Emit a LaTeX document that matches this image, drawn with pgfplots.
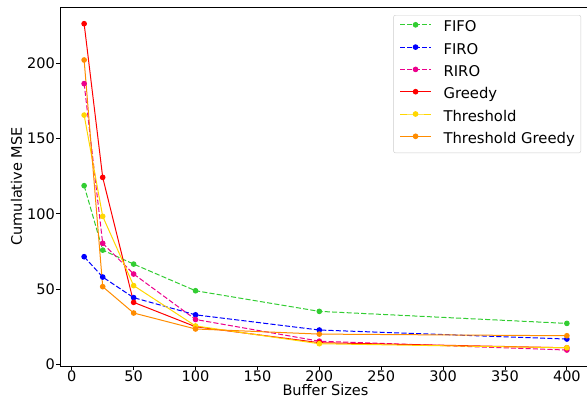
\documentclass[border=0pt]{standalone}
\usepackage{fontspec}
\setmainfont{DejaVu Sans}
\usepackage{pgfplots}
\pgfplotsset{compat=1.18}
\definecolor{cfifo}{HTML}{32CD32}
\definecolor{cgold}{HTML}{FFD700}
\definecolor{corange}{HTML}{FF8C00}
\begin{document}
\begin{tikzpicture}
\begin{axis}[
  at={(0,0)}, anchor=south west,
  scale only axis, width=531pt, height=359pt,
  xmin=-9.5, xmax=419.5, ymin=-1.1, ymax=237.4,
  xtick={0,50,...,400}, ytick={0,50,...,200},
  tick pos=left, tick align=outside, major tick length=3.5pt,
  tick style={black, line width=0.8pt},
  axis line style={line width=0.8pt},
  /pgf/number format/assume math mode=true,
  ticklabel style={font=\fontsize{14.5}{17}\selectfont},
  xticklabel style={inner sep=1.5pt},
  yticklabel style={inner sep=1.5pt},
  label style={font=\fontsize{14.5}{17}\selectfont},
  xlabel={Buffer Sizes}, ylabel={Cumulative MSE},
  xlabel style={inner sep=1pt},
  legend cell align=left,
  legend style={at={(1,1)}, anchor=north east, xshift=-10pt, yshift=-8pt,
    draw=black!20, rounded corners=2pt, font=\fontsize{14.8}{17}\selectfont,
    row sep=8.1pt, inner xsep=6pt, inner ysep=6pt,
    nodes={inner sep=0pt, text height=10.7pt, text depth=3.5pt},
    /tikz/every odd column/.append style={column sep=12pt}},
  legend image code/.code={\draw[mark repeat=2,mark phase=2,#1] plot coordinates {(0pt,3.5pt) (15.5pt,3.5pt) (31pt,3.5pt)};},
  every axis plot/.append style={line width=1pt, mark=*, mark size=2.3pt},
]
\addplot[color=cfifo, draw=cfifo, dash pattern=on 5.1pt off 2.2pt, mark options={solid}] coordinates {(10,118.7)(25,75.9)(50,66.6)(100,48.9)(200,35.2)(400,27.2)};
\addlegendentry{FIFO}
\addplot[color=blue, draw=blue, dash pattern=on 5.1pt off 2.2pt, mark options={solid}] coordinates {(10,71.5)(25,58.0)(50,44.3)(100,32.9)(200,22.8)(400,16.8)};
\addlegendentry{FIRO}
\addplot[color=magenta, draw=magenta, dash pattern=on 5.1pt off 2.2pt, mark options={solid}] coordinates {(10,186.5)(25,80.4)(50,60.0)(100,29.8)(200,15.4)(400,9.5)};
\addlegendentry{RIRO}
\addplot[color=red, draw=red] coordinates {(10,226.3)(25,124.2)(50,41.2)(100,25.0)(200,14.4)(400,11.0)};
\addlegendentry{Greedy}
\addplot[color=cgold, draw=cgold] coordinates {(10,165.6)(25,98.3)(50,52.3)(100,25.5)(200,13.7)(400,11.0)};
\addlegendentry{Threshold}
\addplot[color=corange, draw=corange] coordinates {(10,202.2)(25,51.6)(50,34.1)(100,23.5)(200,20.1)(400,19.0)};
\addlegendentry{Threshold Greedy}
\end{axis}
\pgfresetboundingbox
\path (-60pt,-34pt) rectangle (527pt,366pt);
\end{tikzpicture}
\end{document}
